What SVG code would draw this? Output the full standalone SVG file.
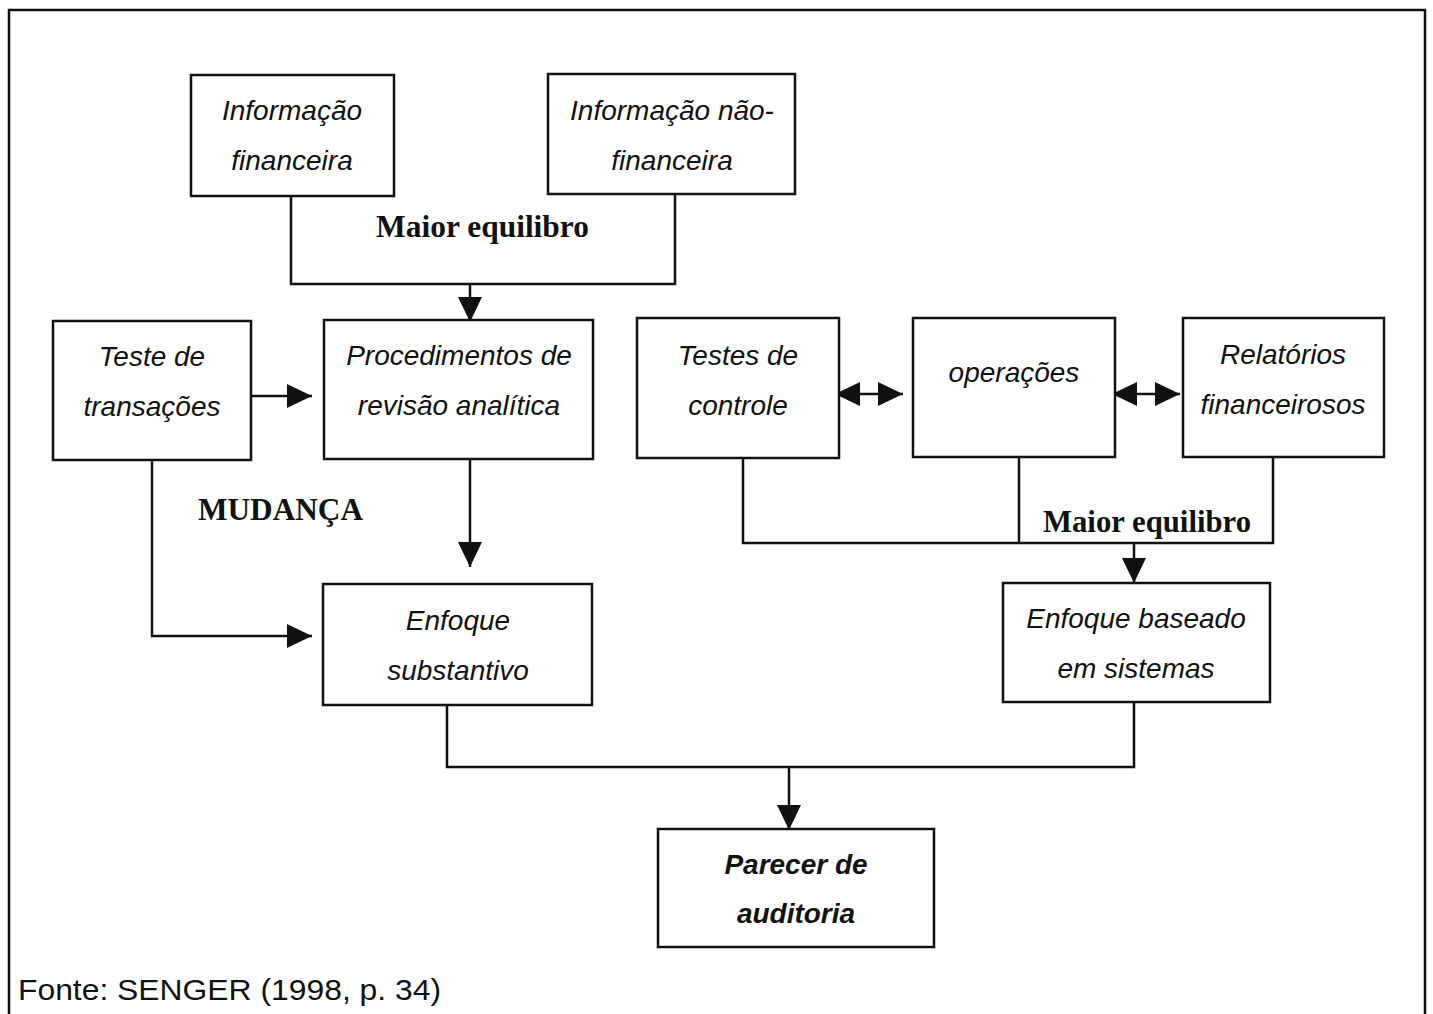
<svg xmlns="http://www.w3.org/2000/svg" width="1433" height="1014" viewBox="0 0 1433 1014">
  <style>
    .box { fill: #fff; stroke: #111; stroke-width: 2.5; }
    .lbl { font-family: "Liberation Sans", Arial, sans-serif; font-style: italic; font-size: 28px; fill: #111; text-anchor: middle; }
    .lbl.b { font-weight: bold; }
    .note { font-family: "Liberation Serif", "Times New Roman", serif; font-weight: bold; font-size: 31px; fill: #111; }
    .src { font-family: "Liberation Sans", Arial, sans-serif; font-size: 30px; fill: #111; }
    .wire { fill: none; stroke: #111; stroke-width: 2.5; }
  </style>
  <defs>
    <marker id="head" markerWidth="25" markerHeight="24" refX="25" refY="12" orient="auto-start-reverse" markerUnits="userSpaceOnUse">
      <path d="M0,0 L25,12 L0,24 Z" fill="#111"/>
    </marker>
  </defs>

  <rect width="1433" height="1014" fill="#fff"/>

  <!-- outer frame -->
  <path d="M9,1014 V10 H1425 V1014" class="wire"/>

  <g id="connectors">
    <!-- top pair merging into the analytical procedures box -->
    <path d="M291,196 V284 H675 V194" class="wire"/>
    <line x1="470" y1="284" x2="470" y2="322" class="wire" marker-end="url(#head)"/>
    <!-- Teste de transações -> Procedimentos -->
    <line x1="245" y1="396" x2="312" y2="396" class="wire" marker-end="url(#head)"/>
    <!-- Procedimentos -> Enfoque substantivo -->
    <line x1="470" y1="459" x2="470" y2="567" class="wire" marker-end="url(#head)"/>
    <!-- Teste de transações -> Enfoque substantivo -->
    <path d="M152,460 V636 H312" class="wire" marker-end="url(#head)"/>
    <!-- two-way links in the right row -->
    <line x1="835" y1="394" x2="903" y2="394" class="wire" marker-start="url(#head)" marker-end="url(#head)"/>
    <line x1="1112" y1="394" x2="1180" y2="394" class="wire" marker-start="url(#head)" marker-end="url(#head)"/>
    <!-- right row merging into systems approach -->
    <path d="M743,458 V543 H1273 V457" class="wire"/>
    <line x1="1019" y1="457" x2="1019" y2="543" class="wire"/>
    <line x1="1134" y1="543" x2="1134" y2="583" class="wire" marker-end="url(#head)"/>
    <!-- both approaches merging into the audit opinion -->
    <path d="M447,705 V767 H1134 V702" class="wire"/>
    <line x1="789" y1="767" x2="789" y2="830" class="wire" marker-end="url(#head)"/>
  </g>

  <g id="info-financeira">
    <rect x="191" y="75" width="203" height="121" class="box"/>
    <text x="292" y="120" class="lbl">Informação</text>
    <text x="292" y="170" class="lbl">financeira</text>
  </g>

  <g id="info-nao-financeira">
    <rect x="548" y="74" width="247" height="120" class="box"/>
    <text x="672" y="120" class="lbl">Informação não-</text>
    <text x="672" y="170" class="lbl">financeira</text>
  </g>

  <g id="teste-transacoes">
    <rect x="53" y="321" width="198" height="139" class="box"/>
    <text x="152" y="366" class="lbl">Teste de</text>
    <text x="152" y="416" class="lbl">transações</text>
  </g>

  <g id="procedimentos">
    <rect x="324" y="320" width="269" height="139" class="box"/>
    <text x="459" y="365" class="lbl">Procedimentos de</text>
    <text x="459" y="415" class="lbl">revisão analítica</text>
  </g>

  <g id="testes-controle">
    <rect x="637" y="318" width="202" height="140" class="box"/>
    <text x="738" y="365" class="lbl">Testes de</text>
    <text x="738" y="415" class="lbl">controle</text>
  </g>

  <g id="operacoes">
    <rect x="913" y="318" width="202" height="139" class="box"/>
    <text x="1014" y="382" class="lbl">operações</text>
  </g>

  <g id="relatorios">
    <rect x="1183" y="318" width="201" height="139" class="box"/>
    <text x="1283" y="364" class="lbl">Relatórios</text>
    <text x="1283" y="414" class="lbl">financeirosos</text>
  </g>

  <g id="enfoque-substantivo">
    <rect x="323" y="584" width="269" height="121" class="box"/>
    <text x="458" y="630" class="lbl">Enfoque</text>
    <text x="458" y="680" class="lbl">substantivo</text>
  </g>

  <g id="enfoque-sistemas">
    <rect x="1003" y="583" width="267" height="119" class="box"/>
    <text x="1136" y="628" class="lbl">Enfoque baseado</text>
    <text x="1136" y="678" class="lbl">em sistemas</text>
  </g>

  <g id="parecer">
    <rect x="658" y="829" width="276" height="118" class="box"/>
    <text x="796" y="874" class="lbl b">Parecer de</text>
    <text x="796" y="923" class="lbl b">auditoria</text>
  </g>

  <!-- free-standing annotations -->
  <text x="376" y="237" class="note" textLength="213" lengthAdjust="spacingAndGlyphs">Maior equilibro</text>
  <text x="198" y="520" class="note" font-size="28" textLength="165" lengthAdjust="spacingAndGlyphs">MUDANÇA</text>
  <text x="1043" y="532" class="note" font-size="29" textLength="208" lengthAdjust="spacingAndGlyphs">Maior equilibro</text>
  <text x="18" y="1000" class="src" textLength="423" lengthAdjust="spacingAndGlyphs">Fonte: SENGER (1998, p. 34)</text>
</svg>
